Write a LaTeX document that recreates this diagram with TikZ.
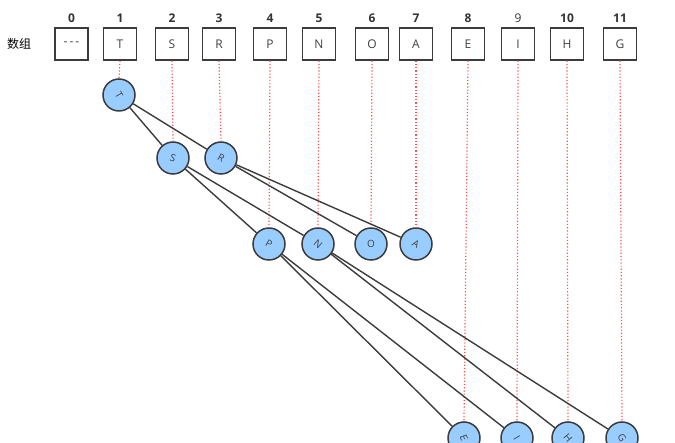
\documentclass[tikz,border=0pt]{standalone}
\usepackage{fontspec}
\setmainfont{Open Sans}
\newfontfamily\cjk{Noto Sans CJK SC}
\usepackage{xcolor}
\usetikzlibrary{positioning}

\definecolor{nodeblue}{HTML}{99CCFF}
\definecolor{edgegray}{HTML}{3C3C3C}
\definecolor{guidered}{HTML}{FF4D4D}

\begin{document}
\begin{tikzpicture}[
  x=1pt, y=-1pt,
  cell/.style={draw=edgegray, line width=1.5pt, minimum width=33pt,
    minimum height=32pt, inner sep=0pt, font=\fontsize{12}{13}\selectfont,
    text=black!75},
  idx/.style={font=\fontsize{12}{13}\selectfont\bfseries, text=black!80},
  tnode/.style={circle, draw=edgegray, line width=1.5pt, fill=nodeblue,
    minimum size=32pt, inner sep=0pt, font=\fontsize{10}{11}\selectfont,
    text=black!75},
  edge/.style={draw=edgegray, line width=1.4pt},
  guide/.style={draw=guidered, dotted, line width=1.2pt},
]
\useasboundingbox (0,0) rectangle (675,443);

% array row
\node (lbl) at (19,44) {\cjk\fontsize{12}{13}\selectfont 数组};
\node[cell] (c0) at (71.5,44) {-\,-\,-};
\node[cell] (c1) at (120,44) {T};
\node[cell] (c2) at (172,44) {S};
\node[cell] (c3) at (219,44) {R};
\node[cell] (c4) at (270,44) {P};
\node[cell] (c5) at (319,44) {N};
\node[cell] (c6) at (372,44) {O};
\node[cell] (c7) at (416,44) {A};
\node[cell] (c8) at (468,44) {E};
\node[cell] (c9) at (518,44) {I};
\node[cell] (c10) at (567,44) {H};
\node[cell] (c11) at (620,44) {G};

% indices
\node[idx, above=1pt of c0] (i0) {0};
\node[idx, above=1pt of c1] (i1) {1};
\node[idx, above=1pt of c2] (i2) {2};
\node[idx, above=1pt of c3] (i3) {3};
\node[idx, above=1pt of c4] (i4) {4};
\node[idx, above=1pt of c5] (i5) {5};
\node[idx, above=1pt of c6] (i6) {6};
\node[idx, above=1pt of c7] (i7) {7};
\node[idx, above=1pt of c8] (i8) {8};
\node[idx, above=1pt of c9, font=\fontsize{12}{13}\selectfont] (i9) {9};
\node[idx, above=1pt of c10] (i10) {10};
\node[idx, above=1pt of c11] (i11) {11};

% tree
\node[tnode] (T) at (119,95) {\rotatebox{-60}{T}};
\node[tnode] (S) at (173,158) {\rotatebox{-20}{S}};
\node[tnode] (R) at (221,158) {\rotatebox{-30}{R}};
\node[tnode] (P) at (269,244) {\rotatebox{-30}{P}};
\node[tnode] (N) at (318,244) {\rotatebox{-40}{N}};
\node[tnode] (O) at (371,244) {O};
\node[tnode] (A) at (416,244) {\rotatebox{-30}{A}};
\node[tnode] (E) at (464,438) {\rotatebox{-70}{E}};
\node[tnode] (I) at (517,438) {\rotatebox{-60}{I}};
\node[tnode] (H) at (568,438) {\rotatebox{-50}{H}};
\node[tnode] (G) at (622,438) {\rotatebox{-60}{G}};

% guides
\draw[guide] (c1.south) -- (T.north);
\draw[guide] (c2.south) -- (S.north);
\draw[guide] (c3.south) -- (R.north);
\draw[guide] (c4.south) -- (P.north);
\draw[guide] (c5.south) -- (N.north);
\draw[guide] (c6.south) -- (O.north);
\draw[guide] (c7.south) -- (A.north);
\draw[guide] (c8.south) -- (E.north);
\draw[guide] (c9.south) -- (I.north);
\draw[guide] (c10.south) -- (H.north);
\draw[guide] (c11.south) -- (G.north);

% edges
\draw[edge] (T) -- (S);
\draw[edge] (T) -- (R);
\draw[edge] (S) -- (P);
\draw[edge] (S) -- (N);
\draw[edge] (R) -- (O);
\draw[edge] (R) -- (A);
\draw[edge] (P) -- (E);
\draw[edge] (P) -- (I);
\draw[edge] (N) -- (H);
\draw[edge] (N) -- (G);
\end{tikzpicture}
\end{document}
